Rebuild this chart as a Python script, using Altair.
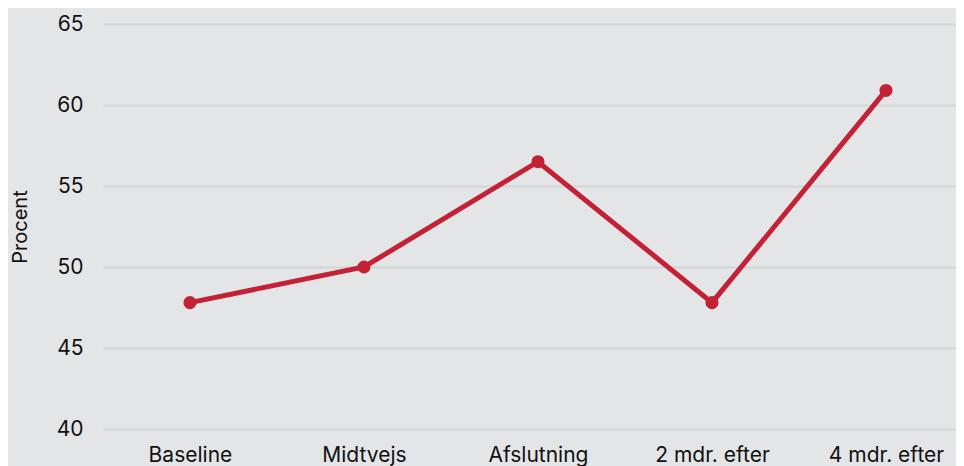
import altair as alt
import pandas as pd

categories = ["Baseline", "Midtvejs", "Afslutning", "2 mdr. efter", "4 mdr. efter"]
values = [47.8, 50.0, 56.5, 47.8, 60.9]

df = pd.DataFrame({"Tidspunkt": categories, "Procent": values})

FONT = "Inter"
TXT = "#111111"

base = alt.Chart(df).encode(
    x=alt.X("Tidspunkt:N", sort=categories, title=None,
            scale=alt.Scale(type="point", padding=0.451, align=0.554),
            axis=alt.Axis(labelAngle=0, ticks=False, domain=False, grid=False,
                          labelFontSize=21, labelPadding=15, labelColor=TXT,
                          labelFont=FONT)),
    y=alt.Y("Procent:Q", title="Procent",
            scale=alt.Scale(domain=[40, 65], nice=False, zero=False),
            axis=alt.Axis(values=[40, 45, 50, 55, 60, 65], ticks=False, domain=False,
                          gridColor="#d4d5d8", gridWidth=2,
                          labelFontSize=21, labelPadding=20, labelColor=TXT,
                          labelFont=FONT, titleFont=FONT, titleFontSize=20,
                          titleFontWeight="normal", titleColor=TXT,
                          titlePadding=26)),
)

line = base.mark_line(color="#c42036", strokeWidth=5)
points = base.mark_circle(color="#c42036", size=170, opacity=1)

chart = (line + points).properties(
    width=853, height=405,
    background="#e4e5e7",
    padding={"left": 95, "top": 16, "right": 0, "bottom": 50},
    autosize=alt.AutoSizeParams(type="none"),
).configure_view(stroke=None, fill="#e4e5e7")

chart.save("out.html", embed_options={"renderer": "svg", "actions": False})
